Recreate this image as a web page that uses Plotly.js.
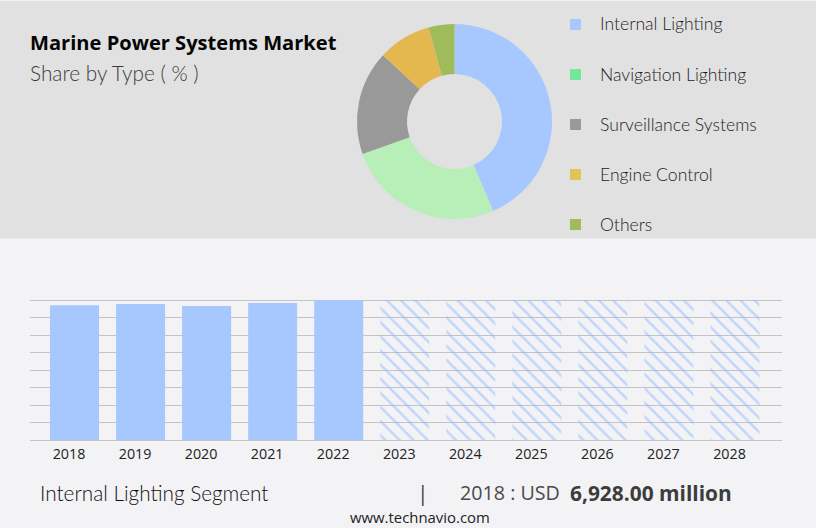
<!DOCTYPE html>
<html>
<head>
<meta charset="utf-8">
<script src="https://cdn.plot.ly/plotly-3.0.1.min.js"></script>
<style>html,body{margin:0;padding:0;background:#f3f3f5}#c{width:816px;height:528px}</style>
</head>
<body>
<div id="c"></div>
<script>
const segments = ['Internal Lighting','Navigation Lighting','Surveillance Systems','Engine Control','Others'];
const shares = [43.5,26.1,17.3,8.8,4.3];
const sliceColors = ['#a6c8ff','#b8efb8','#999999','#e5b84f','#a0bb5a'];
const legendColors = ['#a6c8ff','#74e89a','#999999','#e0c456','#a0bb5a'];
const histYears = [2018,2019,2020,2021,2022];
const histValues = [6928,6995,6890,7045,7200];
const forecastYears = [2023,2024,2025,2026,2027,2028];
const forecastValues = [7200,7200,7200,7200,7200,7200];

const W = 816, H = 528;
const px = v => v / W, py = v => 1 - v / H;
const geo = '"Lato","Open Sans",sans-serif';
const ui = '"Open Sans","Noto Sans",sans-serif';
const allYears = histYears.concat(forecastYears);

const data = [
  {type:'bar', x:histYears, y:histValues, width:0.742, marker:{color:'#a6c8ff', line:{width:0}}, hoverinfo:'skip', showlegend:false},
  {type:'bar', x:forecastYears, y:forecastValues, width:0.742,
   marker:{color:'rgba(0,0,0,0)', line:{width:0},
     pattern:{shape:'\\', fgcolor:'#8db8ff', bgcolor:'rgba(0,0,0,0)', size:10, solidity:0.25, fillmode:'overlay'}},
   hoverinfo:'skip', showlegend:false},
  {type:'pie', labels:segments, values:shares, sort:false, direction:'clockwise', rotation:0, hole:0.487,
   marker:{colors:sliceColors, line:{width:0}}, textinfo:'none', hoverinfo:'skip', showlegend:false,
   domain:{x:[px(357),px(552)], y:[py(219),py(24)]}}
];

const shapes = [
  {type:'rect', xref:'paper', yref:'paper', x0:0, x1:1, y0:py(238.5), y1:py(1), fillcolor:'#e1e1e1', line:{width:0}, layer:'below'}
];
const annotations = [];
const note = (x, y, text, size, color, family, anchor, weight) => annotations.push({
  xref:'paper', yref:'paper', x:px(x), y:py(y), text, showarrow:false, xanchor:anchor||'left', yanchor:'middle',
  font:{size, color, family, weight:weight||400}, borderpad:0, borderwidth:0
});
note(30,42,'<b>Marine Power Systems Market</b>',20.1,'#050505',ui);
note(30,73,'Share by Type ( % )',20.8,'#3c3c3c',geo,'left',300);
segments.forEach((s,i)=>{
  const yc = 24.5 + i*50;
  shapes.push({type:'rect', xref:'paper', yref:'paper', x0:px(570), x1:px(581), y0:py(yc+5.5), y1:py(yc-5.5), fillcolor:legendColors[i], line:{width:0}});
  note(600,yc-0.5,s,17.6,'#1e1e1e',geo,'left',300);
});
note(40,493,segments[0]+' Segment',20.75,'#111111',geo,'left',300);
note(423,492.5,'|',21,'#444444',ui,'center');
note(460,492.5,'2018 : USD',19.7,'#4a4a4a',ui);
note(570,492.5,'<b>'+histValues[0].toLocaleString('en-US',{minimumFractionDigits:2})+' million</b>',20.9,'#3c3c3c',ui);
note(420,516.5,'www.technavio.com',14.9,'#222222',ui,'center');

const layout = {
  width:W, height:H, margin:{l:0,r:0,t:0,b:0,pad:0},
  paper_bgcolor:'#f3f3f5', plot_bgcolor:'rgba(0,0,0,0)',
  barmode:'overlay', showlegend:false, shapes, annotations,
  xaxis:{domain:[px(30),px(782)], type:'linear', range:[2018-0.674,2018+10.712],
    tickmode:'array', tickvals:allYears.map(y=>y-5.5/66), ticktext:allYears.map(String),
    showgrid:false, zeroline:false, showline:false,
    ticks:'', ticklabelstandoff:4, tickfont:{size:14.3,color:'#222222',family:ui}},
  yaxis:{domain:[py(440),py(297)], range:[0,7200*143/140], tick0:0, dtick:900, showticklabels:false, ticks:'',
    showgrid:true, gridcolor:'#c4c4c4', gridwidth:1, zeroline:true, zerolinecolor:'#c4c4c4', zerolinewidth:1, showline:false}
};
Plotly.newPlot('c', data, layout, {displayModeBar:false, staticPlot:true});
</script>
</body>
</html>
